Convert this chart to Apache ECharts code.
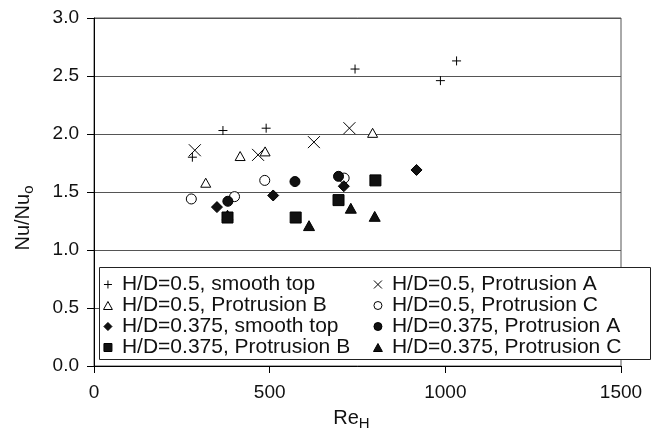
<!DOCTYPE html>
<html>
<head>
<meta charset="utf-8">
<script src="https://cdn.jsdelivr.net/npm/echarts@6/dist/echarts.min.js"></script>
<style>
html,body{margin:0;padding:0;background:#fff;}
#chart{width:657px;height:431px;}
</style>
</head>
<body>
<div id="chart"></div>
<script>
// ---- data ----
const seriesNames = [
  'H/D=0.5, smooth top',
  'H/D=0.5, Protrusion A',
  'H/D=0.5, Protrusion B',
  'H/D=0.5, Protrusion C',
  'H/D=0.375, smooth top',
  'H/D=0.375, Protrusion A',
  'H/D=0.375, Protrusion B',
  'H/D=0.375, Protrusion C'
];
const hd05Smooth = [[280,1.80],[367,2.03],[490,2.05],[743,2.56],[986,2.46],[1032,2.63]];
const hd05ProtA  = [[287,1.86],[467,1.82],[626,1.93],[727,2.05]];
const hd05ProtB  = [[318,1.58],[416,1.81],[487,1.85],[793,2.01]];
const hd05ProtC  = [[277,1.44],[400,1.46],[486,1.60],[712,1.62]];
const hd0375Smooth = [[350,1.37],[510,1.47],[711,1.55],[918,1.69]];
const hd0375ProtA  = [[381,1.42],[572,1.59],[696,1.635]];
const hd0375ProtB  = [[380,1.28],[574,1.28],[696,1.43],[801,1.60]];
const hd0375ProtC  = [[380,1.30],[612,1.21],[731,1.36],[799,1.29]];
const xTicks = [0, 500, 1000, 1500];
const yTicks = [0.0, 0.5, 1.0, 1.5, 2.0, 2.5, 3.0];

const FONT = '"Liberation Sans", Arial, Helvetica, sans-serif';
const PLUS = 'path://M0,5L10,5M5,0L5,10';
const CROSS = 'path://M0,0L10,10M10,0L0,10';
const TRI = 'path://M5,0L10,9L0,9Z';
const CIRC = 'path://M5,0A5,5,0,1,1,5,10A5,5,0,1,1,5,0Z';
const DIAM = 'path://M5,0L10,5L5,10L0,5Z';
const SQR = 'path://M0,0L10,0L10,10L0,10Z';

function mk(name, data, symbol, size, fill, z) {
  return {
    name: name, type: 'scatter', data: data, symbol: symbol, symbolSize: size,
    symbolKeepAspect: true,
    z: z,
    itemStyle: { color: fill, borderColor: '#000', borderWidth: 1, opacity: 1 },
    emphasis: { disabled: true }
  };
}

const legendText = { fontFamily: FONT, fontSize: 21, color: '#111', lineHeight: 19.7 };

const chart = echarts.init(document.getElementById('chart'), null, { renderer: 'canvas' });
chart.setOption({
  animation: false,
  backgroundColor: '#fff',
  textStyle: { fontFamily: FONT, color: '#111' },
  grid: { left: 94, right: 36, top: 18, bottom: 65, containLabel: false, outerBoundsMode: 'none',
          show: true, borderColor: '#555', borderWidth: 1 },
  xAxis: {
    type: 'value', min: xTicks[0], max: xTicks[xTicks.length - 1], interval: 500,
    name: 'Re{s|H}', nameLocation: 'middle', nameGap: 40,
    nameTextStyle: { fontFamily: FONT, fontSize: 20, color: '#111', padding: [0, 12, 0, 0],
      rich: { s: { fontSize: 15, verticalAlign: 'bottom', padding: [10, 0, 0, 0], fontFamily: FONT, color: '#111' } } },
    axisLine: { lineStyle: { color: '#000', width: 1 } },
    axisTick: { show: true, inside: false, length: 7, lineStyle: { color: '#000' } },
    axisLabel: { fontSize: 19, color: '#111', margin: 17, fontFamily: FONT, formatter: v => String(v) },
    splitLine: { show: false }
  },
  yAxis: {
    type: 'value', min: yTicks[0], max: yTicks[yTicks.length - 1], interval: 0.5,
    name: 'Nu/Nu{s|o}', nameLocation: 'middle', nameGap: 58,
    nameTextStyle: { fontFamily: FONT, fontSize: 20, color: '#111', padding: [0, 52, 0, 0],
      rich: { s: { fontSize: 15, verticalAlign: 'bottom', padding: [10, 0, 0, 0], fontFamily: FONT, color: '#111' } } },
    axisLine: { show: true, lineStyle: { color: '#000', width: 1 } },
    axisTick: { show: true, inside: false, length: 7, lineStyle: { color: '#000' } },
    axisLabel: { fontSize: 19, color: '#111', margin: 15, fontFamily: FONT, formatter: v => v.toFixed(1) },
    splitLine: { show: true, lineStyle: { color: '#555', width: 1.2 } }
  },
  graphic: [{
    type: 'rect', z: 3, left: 99, top: 267,
    shape: { width: 551, height: 92 },
    style: { fill: '#fff', stroke: '#222', lineWidth: 1 }
  }],
  legend: [{
    orient: 'vertical', left: 103, top: 274, padding: 0, itemGap: 0,
    itemWidth: 18, itemHeight: 8, z: 5, symbolKeepAspect: true,
    textStyle: legendText,
    itemStyle: { borderWidth: 1 },
    data: [seriesNames[0], seriesNames[2], seriesNames[4], seriesNames[6]]
  }, {
    orient: 'vertical', left: 373, top: 274, padding: 0, itemGap: 0,
    itemWidth: 18, itemHeight: 8, z: 5, symbolKeepAspect: true,
    textStyle: legendText,
    itemStyle: { borderWidth: 1 },
    data: [seriesNames[1], seriesNames[3], seriesNames[5], seriesNames[7]]
  }],
  series: [
    mk(seriesNames[0], hd05Smooth, PLUS, 9, '#000', 2),
    mk(seriesNames[1], hd05ProtA, CROSS, 12, '#000', 2),
    mk(seriesNames[2], hd05ProtB, TRI, 10, '#fff', 2),
    mk(seriesNames[3], hd05ProtC, CIRC, 10, '#fff', 2),
    mk(seriesNames[4], hd0375Smooth, DIAM, 11, '#111', 2),
    mk(seriesNames[5], hd0375ProtA, CIRC, 10, '#111', 2),
    mk(seriesNames[7], hd0375ProtC, TRI, 11, '#111', 2),
    mk(seriesNames[6], hd0375ProtB, SQR, 11, '#111', 2)
  ]
});
</script>
</body>
</html>
